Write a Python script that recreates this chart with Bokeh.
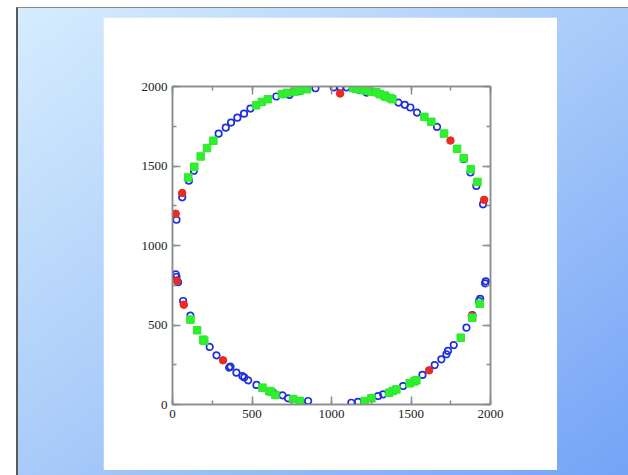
from bokeh.plotting import figure
from bokeh.layouts import column
from bokeh.models import Range1d, LinearAxis, SingleIntervalTicker, CustomJSTickFormatter
from bokeh.embed import file_html
from bokeh.resources import INLINE

# Positions on the ring, three groups of points
blue_x = [25, 61, 103, 135, 290, 335, 368, 408, 450, 490, 653, 737, 799, 846, 899,
          1014, 1056, 1094, 1178, 1220, 1299, 1421, 1461, 1496, 1538, 1664, 1832, 1874, 1911, 1953,
          21, 25, 35, 67, 113, 234, 277, 356, 365, 402, 440, 452, 476, 528, 633, 692, 727, 805, 853,
          1125, 1167, 1293, 1325, 1450, 1572, 1649, 1691, 1723, 1733, 1769, 1849, 1886, 1928, 1935, 1966, 1970]
blue_y = [1162, 1303, 1408, 1470, 1703, 1741, 1773, 1804, 1829, 1861, 1937, 1947, 1970, 1985, 1989,
          1994, 1994, 1994, 1977, 1962, 1952, 1899, 1885, 1868, 1836, 1746, 1543, 1459, 1375, 1259,
          819, 802, 769, 651, 559, 362, 309, 232, 238, 200, 179, 170, 152, 123, 74, 58, 39, 18, 22,
          11, 16, 53, 64, 116, 186, 248, 284, 316, 337, 374, 483, 563, 651, 664, 762, 775]

red_x = [20, 61, 1054, 1748, 1960, 28, 71, 318, 1614, 1882]
red_y = [1200, 1330, 1956, 1660, 1287, 778, 628, 278, 215, 558]

green_x = [99, 137, 177, 217, 257, 526, 562, 600, 688, 720, 768, 800, 846,
           1136, 1156, 1174, 1194, 1209, 1227, 1251, 1282, 1304, 1333, 1341, 1370, 1383,
           1584, 1628, 1708, 1790, 1832, 1876, 1918,
           113, 155, 193, 200, 566, 608, 620, 647, 759, 801,
           1209, 1251, 1362, 1385, 1408, 1492, 1520, 1534, 1813, 1886, 1932]
green_y = [1428, 1495, 1560, 1613, 1659, 1882, 1903, 1920, 1952, 1960, 1968, 1975, 1983,
           1990, 1985, 1984, 1979, 1977, 1974, 1967, 1964, 1952, 1943, 1935, 1928, 1920,
           1809, 1778, 1704, 1608, 1549, 1480, 1400,
           534, 467, 408, 400, 106, 85, 80, 60, 34, 22,
           22, 39, 74, 85, 95, 133, 145, 152, 420, 546, 634]

FONT = "Liberation Serif"
AXIS_GREY = "#8c8c8c"

p = figure(width=454, height=453,
           x_range=Range1d(0, 2000), y_range=Range1d(0, 2000),
           output_backend="svg", toolbar_location=None,
           min_border_left=69, min_border_right=67,
           min_border_top=69, min_border_bottom=66,
           background_fill_color="white", border_fill_color="white",
           outline_line_color=AXIS_GREY, outline_line_width=1.5,
           margin=(9, 0, 0, 85))
p.grid.visible = False


def style_axis(ax, show_labels):
    ax.ticker = SingleIntervalTicker(interval=500, num_minor_ticks=2)
    ax.axis_line_color = AXIS_GREY
    ax.axis_line_width = 1.5
    ax.major_tick_line_color = AXIS_GREY
    ax.minor_tick_line_color = AXIS_GREY
    ax.major_tick_line_width = 1.5
    ax.minor_tick_line_width = 1.5
    ax.major_tick_in = 8
    ax.major_tick_out = 0
    ax.minor_tick_in = 4
    ax.minor_tick_out = 0
    ax.major_label_text_font = FONT
    ax.major_label_text_font_size = "13px"
    ax.major_label_text_color = "#222222"
    ax.major_label_standoff = 5
    if not show_labels:
        ax.formatter = CustomJSTickFormatter(code="return ''")


for ax in p.xaxis + p.yaxis:
    style_axis(ax, True)

top_axis = LinearAxis()
right_axis = LinearAxis()
style_axis(top_axis, False)
style_axis(right_axis, False)
p.add_layout(top_axis, "above")
p.add_layout(right_axis, "right")

p.scatter(blue_x, blue_y, marker="circle", size=6.5, fill_color=None,
          line_color="#1f2fdc", line_width=1.7)
p.scatter(red_x, red_y, marker="circle", size=7.5, fill_color="#ee2a1c",
          line_color="#e02a22", line_width=1)
p.scatter(green_x, green_y, marker="square", size=7.5, fill_color="#2ef02e",
          line_color="#2ee82e", line_width=1)

page = column(p, width=612, height=468, margin=(7, 0, 0, 16),
              styles={"background": "linear-gradient(to bottom right, #d6edfe 0%, #a9cbf9 50%, #74a3f7 100%)",
                      "border-left": "2px solid #5a5a5a",
                      "border-top": "1px solid #8a8a8a",
                      "box-sizing": "border-box"})

open("out.html", "w").write(file_html(page, INLINE))
